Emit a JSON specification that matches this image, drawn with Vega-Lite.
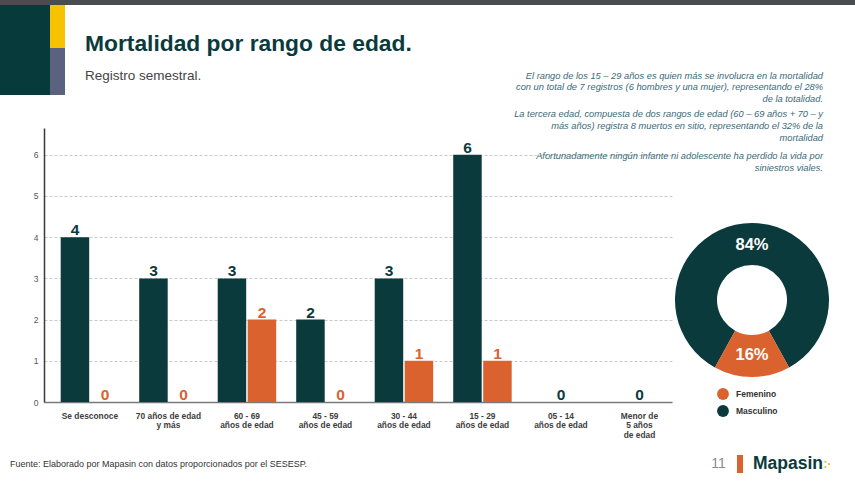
{
  "$schema": "https://vega.github.io/schema/vega-lite/v6.json",
  "padding": 0,
  "background": "white",
  "config": {"view": {"stroke": null}, "font": "Liberation Sans"},
  "datasets": {
    "mortalidad": [
      {"grupo": "Se desconoce", "sexo": "Masculino", "n": 4},
      {"grupo": "Se desconoce", "sexo": "Femenino", "n": 0},
      {"grupo": "70 años de edad y más", "sexo": "Masculino", "n": 3},
      {"grupo": "70 años de edad y más", "sexo": "Femenino", "n": 0},
      {"grupo": "60 - 69 años de edad", "sexo": "Masculino", "n": 3},
      {"grupo": "60 - 69 años de edad", "sexo": "Femenino", "n": 2},
      {"grupo": "45 - 59 años de edad", "sexo": "Masculino", "n": 2},
      {"grupo": "45 - 59 años de edad", "sexo": "Femenino", "n": 0},
      {"grupo": "30 - 44 años de edad", "sexo": "Masculino", "n": 3},
      {"grupo": "30 - 44 años de edad", "sexo": "Femenino", "n": 1},
      {"grupo": "15 - 29 años de edad", "sexo": "Masculino", "n": 6},
      {"grupo": "15 - 29 años de edad", "sexo": "Femenino", "n": 1},
      {"grupo": "05 - 14 años de edad", "sexo": "Masculino", "n": 0},
      {"grupo": "05 - 14 años de edad", "sexo": "Femenino", "n": 0},
      {"grupo": "Menor de 5 años de edad", "sexo": "Masculino", "n": 0},
      {"grupo": "Menor de 5 años de edad", "sexo": "Femenino", "n": 0}
    ]
  },
  "bounds": "flush",
  "spacing": 0,
  "resolve": {"scale": {"color": "independent"}},
  "vconcat": [
    {"width": 855, "height": 5, "data": {"values": []}, "mark": "point", "view": {"fill": "#4a4d50", "stroke": null}},
    {
      "hconcat": [
        {"width": 50, "height": 90, "data": {"values": []}, "mark": "point", "view": {"fill": "#073a3b", "stroke": null}},
        {
          "vconcat": [
            {"width": 15, "height": 43, "data": {"values": []}, "mark": "point", "view": {"fill": "#f7c300", "stroke": null}},
            {"width": 15, "height": 47, "data": {"values": []}, "mark": "point", "view": {"fill": "#5a6280", "stroke": null}}
          ],
          "spacing": 0,
          "bounds": "flush"
        }
      ],
      "spacing": 0,
      "bounds": "flush"
    },
    {"width": 1, "height": 123, "data": {"values": []}, "mark": "point"},
    {
      "hconcat": [
        {"width": 44, "height": 1, "data": {"values": []}, "mark": "point"},
        {
          "width": 628,
          "height": 274,
          "data": {"name": "mortalidad"},
          "title": {
            "text": "Mortalidad por rango de edad.",
            "subtitle": "Registro semestral.",
            "anchor": "start",
            "frame": "group",
            "dx": 41,
            "offset": 46,
            "fontSize": 22.8,
            "fontWeight": "bold",
            "color": "#0b3a3c",
            "subtitleFontSize": 13.5,
            "subtitleColor": "#444444",
            "subtitleFontWeight": "normal",
            "subtitlePadding": 13
          },
          "encoding": {
            "x": {
              "field": "grupo",
              "type": "nominal",
              "sort": ["Se desconoce", "70 años de edad y más", "60 - 69 años de edad", "45 - 59 años de edad", "30 - 44 años de edad", "15 - 29 años de edad", "05 - 14 años de edad", "Menor de 5 años de edad"],
              "scale": {"paddingInner": 0.255, "paddingOuter": 0.1274, "align": 0.835},
              "axis": {
                "title": null,
                "labelAngle": 0,
                "ticks": false,
                "domainColor": "#7a7a7a",
                "domainWidth": 1.5,
                "labelFontSize": 8.4,
                "labelFontWeight": "bold",
                "labelColor": "#3d3d3d",
                "labelPadding": 9,
                "labelLineHeight": 9.5,
                "labelExpr": "datum.value == 'Se desconoce' ? datum.value : datum.value == '70 años de edad y más' ? ['70 años de edad', 'y más'] : datum.value == 'Menor de 5 años de edad' ? ['Menor de', '5 años', 'de edad'] : [slice(datum.value, 0, 7), slice(datum.value, 8)]"
              }
            },
            "y": {
              "field": "n",
              "type": "quantitative",
              "scale": {"domain": [0, 6.65], "nice": false},
              "axis": {
                "title": null,
                "values": [0, 1, 2, 3, 4, 5, 6],
                "ticks": false,
                "grid": true,
                "gridColor": "#c9c9c9",
                "gridDash": [3, 2],
                "domainColor": "#3a3a3a",
                "domainWidth": 1.5,
                "labelFontSize": 8.5,
                "labelColor": "#555555",
                "labelPadding": 6
              }
            }
          },
          "layer": [
            {
              "mark": {"type": "bar"},
              "encoding": {
                "xOffset": {"field": "sexo", "type": "nominal", "sort": ["Masculino", "Femenino"], "scale": {"paddingInner": 0.05}},
                "color": {"field": "sexo", "type": "nominal", "scale": {"domain": ["Femenino", "Masculino"], "range": ["#d9622f", "#0b3a3c"]}, "legend": null}
              }
            },
            {
              "transform": [
                {"joinaggregate": [{"op": "sum", "field": "n", "as": "total"}], "groupby": ["grupo"]},
                {"filter": "datum.total > 0"}
              ],
              "mark": {"type": "text", "fontSize": 15.5, "fontWeight": "bold", "baseline": "alphabetic", "dy": -2},
              "encoding": {
                "xOffset": {"field": "sexo", "type": "nominal", "sort": ["Masculino", "Femenino"], "scale": {"paddingInner": 0.05}},
                "text": {"field": "n", "type": "quantitative"},
                "color": {"field": "sexo", "type": "nominal", "scale": {"domain": ["Femenino", "Masculino"], "range": ["#d9622f", "#0b3a3c"]}, "legend": null}
              }
            },
            {
              "transform": [
                {"aggregate": [{"op": "sum", "field": "n", "as": "total"}], "groupby": ["grupo"]},
                {"filter": "datum.total == 0"}
              ],
              "mark": {"type": "text", "fontSize": 15.5, "fontWeight": "bold", "baseline": "alphabetic", "dy": -2, "color": "#0b3a3c"},
              "encoding": {
                "y": {"field": "total", "type": "quantitative"},
                "text": {"field": "total", "type": "quantitative"}
              }
            }
          ]
        },
        {"width": 3, "height": 1, "data": {"values": []}, "mark": "point"},
        {
          "vconcat": [
            {
              "width": 154, "height": 95, "data": {"values": []}, "mark": "point",
              "title": {
                "text": ["El rango de los 15 – 29 años es quien más se involucra en la mortalidad", "con un total de 7 registros (6 hombres y una mujer), representando el 28%", "de la totalidad."],
                "subtitle": ["La tercera edad, compuesta de dos rangos de edad (60 – 69 años + 70 – y", "más años) registra 8 muertos en sitio, representando el 32% de la", "mortalidad"],
                "anchor": "end",
                "frame": "group",
                "dx": -6,
                "offset": -15,
                "fontSize": 9.3,
                "fontStyle": "italic",
                "fontWeight": "normal",
                "color": "#3a6a78",
                "lineHeight": 11.7,
                "subtitleFontSize": 9.3,
                "subtitleFontStyle": "italic",
                "subtitleColor": "#3a6a78",
                "subtitleLineHeight": 11.7,
                "subtitlePadding": 6
              }
            },
            {
              "width": 154,
              "height": 154,
              "data": {"name": "mortalidad"},
              "transform": [
                {"aggregate": [{"op": "sum", "field": "n", "as": "n"}], "groupby": ["sexo"]},
                {"joinaggregate": [{"op": "sum", "field": "n", "as": "total"}]},
                {"calculate": "datum.n / datum.total", "as": "pct"}
              ],
              "title": {
                "text": ["Afortunadamente ningún infante ni adolescente ha perdido la vida por", "siniestros viales."],
                "anchor": "end",
                "frame": "group",
                "dx": -6,
                "offset": 50,
                "fontSize": 9.3,
                "fontStyle": "italic",
                "fontWeight": "normal",
                "color": "#3a6a78",
                "lineHeight": 11.4
              },
              "encoding": {
                "theta": {"field": "n", "type": "quantitative", "stack": true, "scale": {"range": [2.639, 8.922]}},
                "order": {"field": "sexo", "sort": "ascending"}
              },
              "layer": [
                {
                  "mark": {"type": "arc", "innerRadius": 35, "outerRadius": 77},
                  "encoding": {
                    "color": {
                      "field": "sexo",
                      "type": "nominal",
                      "scale": {"domain": ["Femenino", "Masculino"], "range": ["#d9622f", "#0b3a3c"]},
                      "legend": {
                        "orient": "bottom",
                        "direction": "vertical",
                        "title": null,
                        "symbolType": "circle",
                        "symbolSize": 140,
                        "symbolStrokeWidth": 0,
                        "labelFontSize": 8.5,
                        "labelFontWeight": "bold",
                        "labelColor": "#333333",
                        "labelOffset": 7,
                        "rowPadding": 5,
                        "padding": 42,
                        "offset": -31
                      }
                    }
                  }
                },
                {
                  "mark": {"type": "text", "radius": 55, "fontSize": 16.5, "fontWeight": "bold", "color": "white"},
                  "encoding": {
                    "detail": {"field": "sexo"},
                    "text": {"field": "pct", "type": "quantitative", "format": ".0%"}
                  }
                }
              ]
            }
          ],
          "spacing": 0,
          "bounds": "flush"
        }
      ],
      "spacing": 0,
      "bounds": "flush",
      "resolve": {"scale": {"color": "independent"}}
    },
    {"width": 1, "height": 327, "data": {"values": []}, "mark": "point"},
    {
      "hconcat": [
        {
          "width": 706, "height": 18, "data": {"values": []}, "mark": "point",
          "title": {"text": "Fuente: Elaborado por Mapasin con datos proporcionados por el SESESP.", "anchor": "start", "frame": "group", "dx": 10, "offset": -14, "fontSize": 9, "fontWeight": "normal", "color": "#333333"}
        },
        {"width": 25, "height": 18, "data": {"values": [{}]}, "mark": {"type": "text", "text": "11", "fontSize": 14, "color": "#8c8c8c"}},
        {"width": 6, "height": 18, "data": {"values": []}, "mark": "point"},
        {"width": 6, "height": 18, "data": {"values": []}, "mark": "point", "view": {"fill": "#d9622f", "stroke": null}},
        {"width": 10, "height": 18, "data": {"values": []}, "mark": "point"},
        {"width": 70, "height": 18, "data": {"values": [{}]}, "mark": {"type": "text", "text": "Mapasin", "fontSize": 17.5, "fontWeight": "bold", "color": "#0b3a3c"}},
        {"width": 9, "height": 18, "data": {"values": [{}]}, "mark": {"type": "text", "text": ":·", "fontSize": 12, "fontWeight": "bold", "color": "#f2b705"}}
      ],
      "spacing": 0,
      "bounds": "flush"
    }
  ]
}
